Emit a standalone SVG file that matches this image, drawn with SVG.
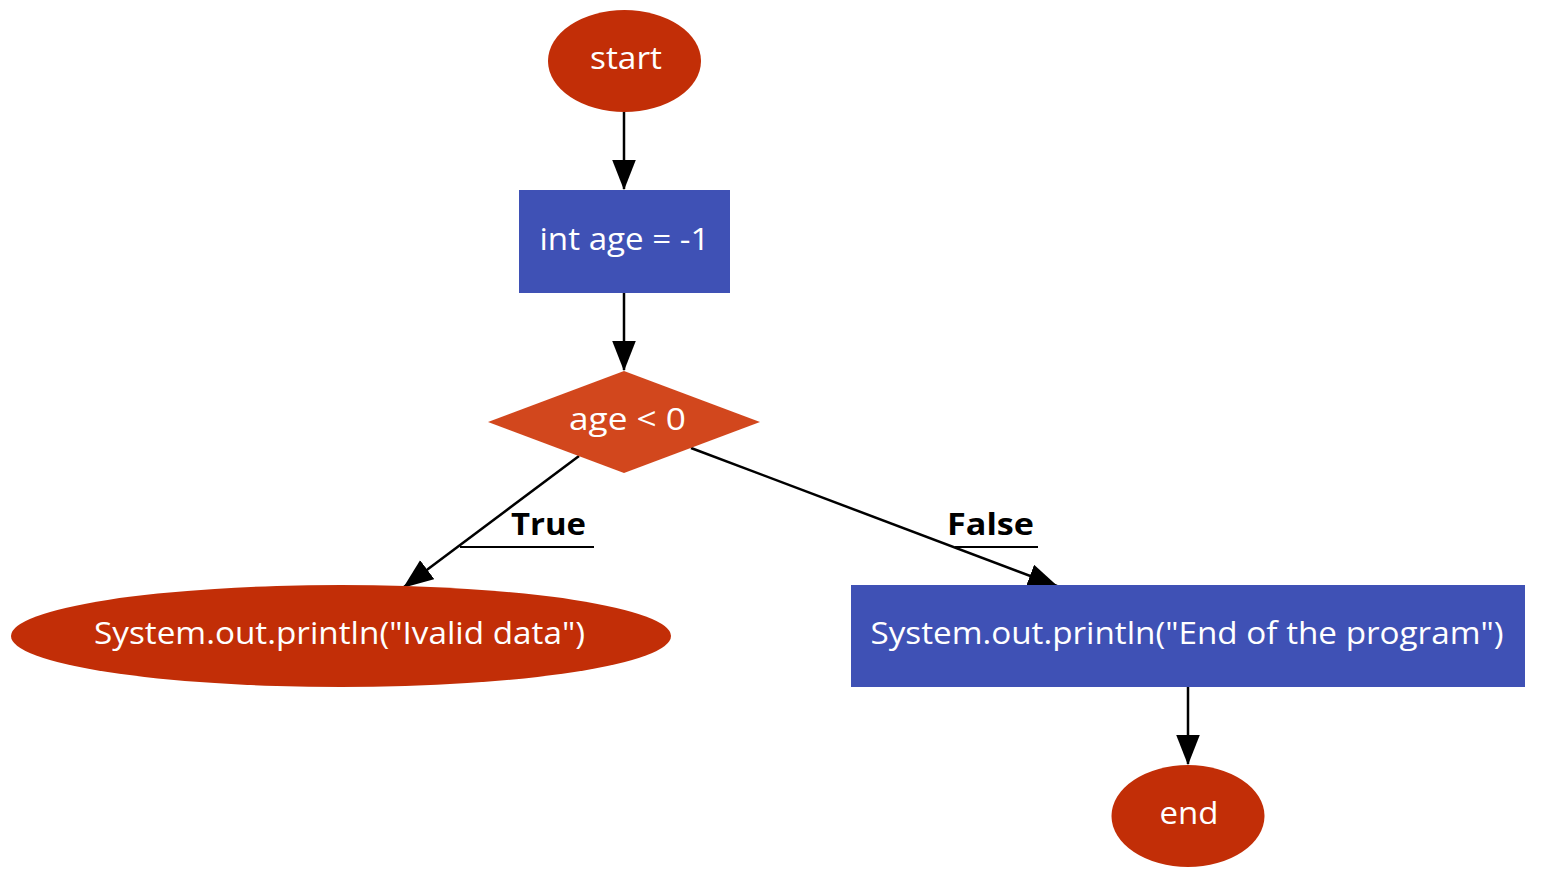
<svg xmlns="http://www.w3.org/2000/svg" width="1550" height="892" viewBox="0 0 1550 892">
<style>
.ell{fill:#c22e07}
.box{fill:#3f51b5}
.dia{fill:#d2471d}
.t{font-family:"Open Sans","Liberation Sans",sans-serif;font-size:31px;fill:#ffffff;text-anchor:middle}
.lbl{font-family:"Open Sans","Liberation Sans",sans-serif;font-size:31px;font-weight:bold;fill:#000000}
.e{stroke:#000;stroke-width:2.5;fill:none}
.u{stroke:#000;stroke-width:2;fill:none}
</style>
<defs>
<marker id="ah" markerUnits="userSpaceOnUse" markerWidth="30" markerHeight="24" viewBox="0 0 28 22" refX="27" refY="11" orient="auto">
<path d="M0,0 L28,11 L0,22 z" fill="#000"/>
</marker>
</defs>
<g id="edges">
<line class="e" x1="624" y1="112" x2="624" y2="189" marker-end="url(#ah)"/>
<line class="e" x1="624" y1="293" x2="624" y2="370" marker-end="url(#ah)"/>
<line class="e" x1="579" y1="456" x2="404" y2="587" marker-end="url(#ah)"/>
<line class="e" x1="691" y1="448" x2="1057" y2="586" marker-end="url(#ah)"/>
<line class="e" x1="1188" y1="687" x2="1188" y2="764" marker-end="url(#ah)"/>
<line class="u" x1="460" y1="547" x2="594" y2="547"/>
<text class="lbl" x="511" y="535" textLength="75" lengthAdjust="spacingAndGlyphs">True</text>
<line class="u" x1="955" y1="547" x2="1038" y2="547"/>
<text class="lbl" x="947" y="535" textLength="87" lengthAdjust="spacingAndGlyphs">False</text>
</g>
<g id="start">
<ellipse class="ell" cx="624.5" cy="61" rx="76.5" ry="51"/>
<text class="t" x="626" y="69" textLength="72" lengthAdjust="spacingAndGlyphs">start</text>
</g>
<g id="init">
<rect class="box" x="519" y="190" width="211" height="103"/>
<text class="t" x="624.5" y="250" textLength="170" lengthAdjust="spacingAndGlyphs">int age = -1</text>
</g>
<g id="cond">
<polygon class="dia" points="624,371 760,422 624,473 488,422"/>
<text class="t" x="627.5" y="430" textLength="117" lengthAdjust="spacingAndGlyphs">age &lt; 0</text>
</g>
<g id="invalid">
<ellipse class="ell" cx="341" cy="636" rx="330" ry="51"/>
<text class="t" x="339.5" y="644" textLength="491" lengthAdjust="spacingAndGlyphs">System.out.println("Ivalid data")</text>
</g>
<g id="endprint">
<rect class="box" x="851" y="585" width="674" height="102"/>
<text class="t" x="1187" y="644" textLength="633" lengthAdjust="spacingAndGlyphs">System.out.println("End of the program")</text>
</g>
<g id="end">
<ellipse class="ell" cx="1188" cy="816" rx="76.5" ry="51"/>
<text class="t" x="1189" y="824" textLength="59" lengthAdjust="spacingAndGlyphs">end</text>
</g>
</svg>
